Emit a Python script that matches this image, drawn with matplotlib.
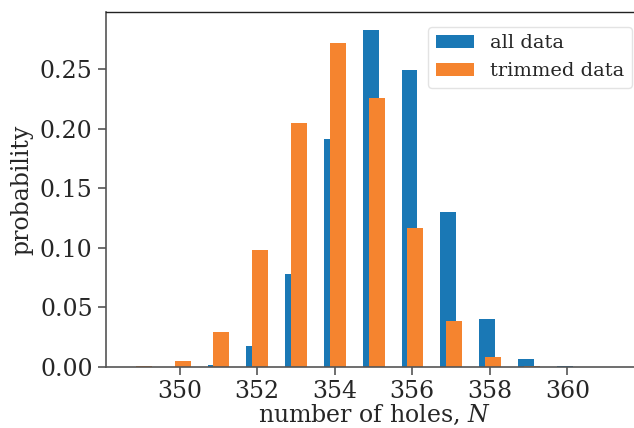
import numpy as np
import matplotlib
matplotlib.use('Agg')
import matplotlib.pyplot as plt

# numero de agujeros y probabilidades
n_holes = np.arange(349, 361)
p_all = [0.0, 0.0, 0.002, 0.018, 0.078, 0.191, 0.283, 0.249, 0.130, 0.040, 0.007, 0.001]
p_trim = [0.001, 0.005, 0.029, 0.098, 0.205, 0.272, 0.226, 0.117, 0.039, 0.008, 0.001, 0.0]

plt.rcParams['font.family'] = 'DejaVu Serif'
plt.rcParams['mathtext.fontset'] = 'dejavuserif'

fig = plt.figure(figsize=(6.34, 4.28), dpi=100)
# el eje derecho queda justo fuera de la imagen, como en el original
ax = fig.add_axes([0.167, 0.1425, 0.846, 0.8295])

ax.bar(n_holes - 0.07, p_all, width=0.41, color='#1a78b5', label='all data')
ax.bar(n_holes + 0.08, p_trim, width=0.41, color='#f5842f', label='trimmed data')

ax.set_xlim(348.1, 361.93)
ax.set_ylim(0, 0.298)
ax.set_xticks(np.arange(350, 361, 2))
ax.set_yticks(np.arange(0, 0.26, 0.05))
ax.set_yticklabels(['0.00', '0.05', '0.10', '0.15', '0.20', '0.25'])

ax.set_xlabel('number of holes, $N$', fontsize=17, color='#262626', labelpad=0)
ax.set_ylabel('probability', fontsize=17, color='#262626', labelpad=5)
ax.tick_params(labelsize=17, length=6, width=1.2, color='#555555', labelcolor='#262626')

for s in ['left', 'bottom']:
    ax.spines[s].set_color('#555555')
    ax.spines[s].set_linewidth(1.2)
for s in ['top', 'right']:
    ax.spines[s].set_color('#222222')
    ax.spines[s].set_linewidth(1.0)

leg = ax.legend(loc='upper right', bbox_to_anchor=(0.999, 0.986), fontsize=14,
                frameon=True, borderaxespad=0.5, handlelength=2.0)
leg.get_frame().set_edgecolor('#dddddd')
for t in leg.get_texts():
    t.set_color('#262626')

plt.savefig('out.png', dpi=100)
